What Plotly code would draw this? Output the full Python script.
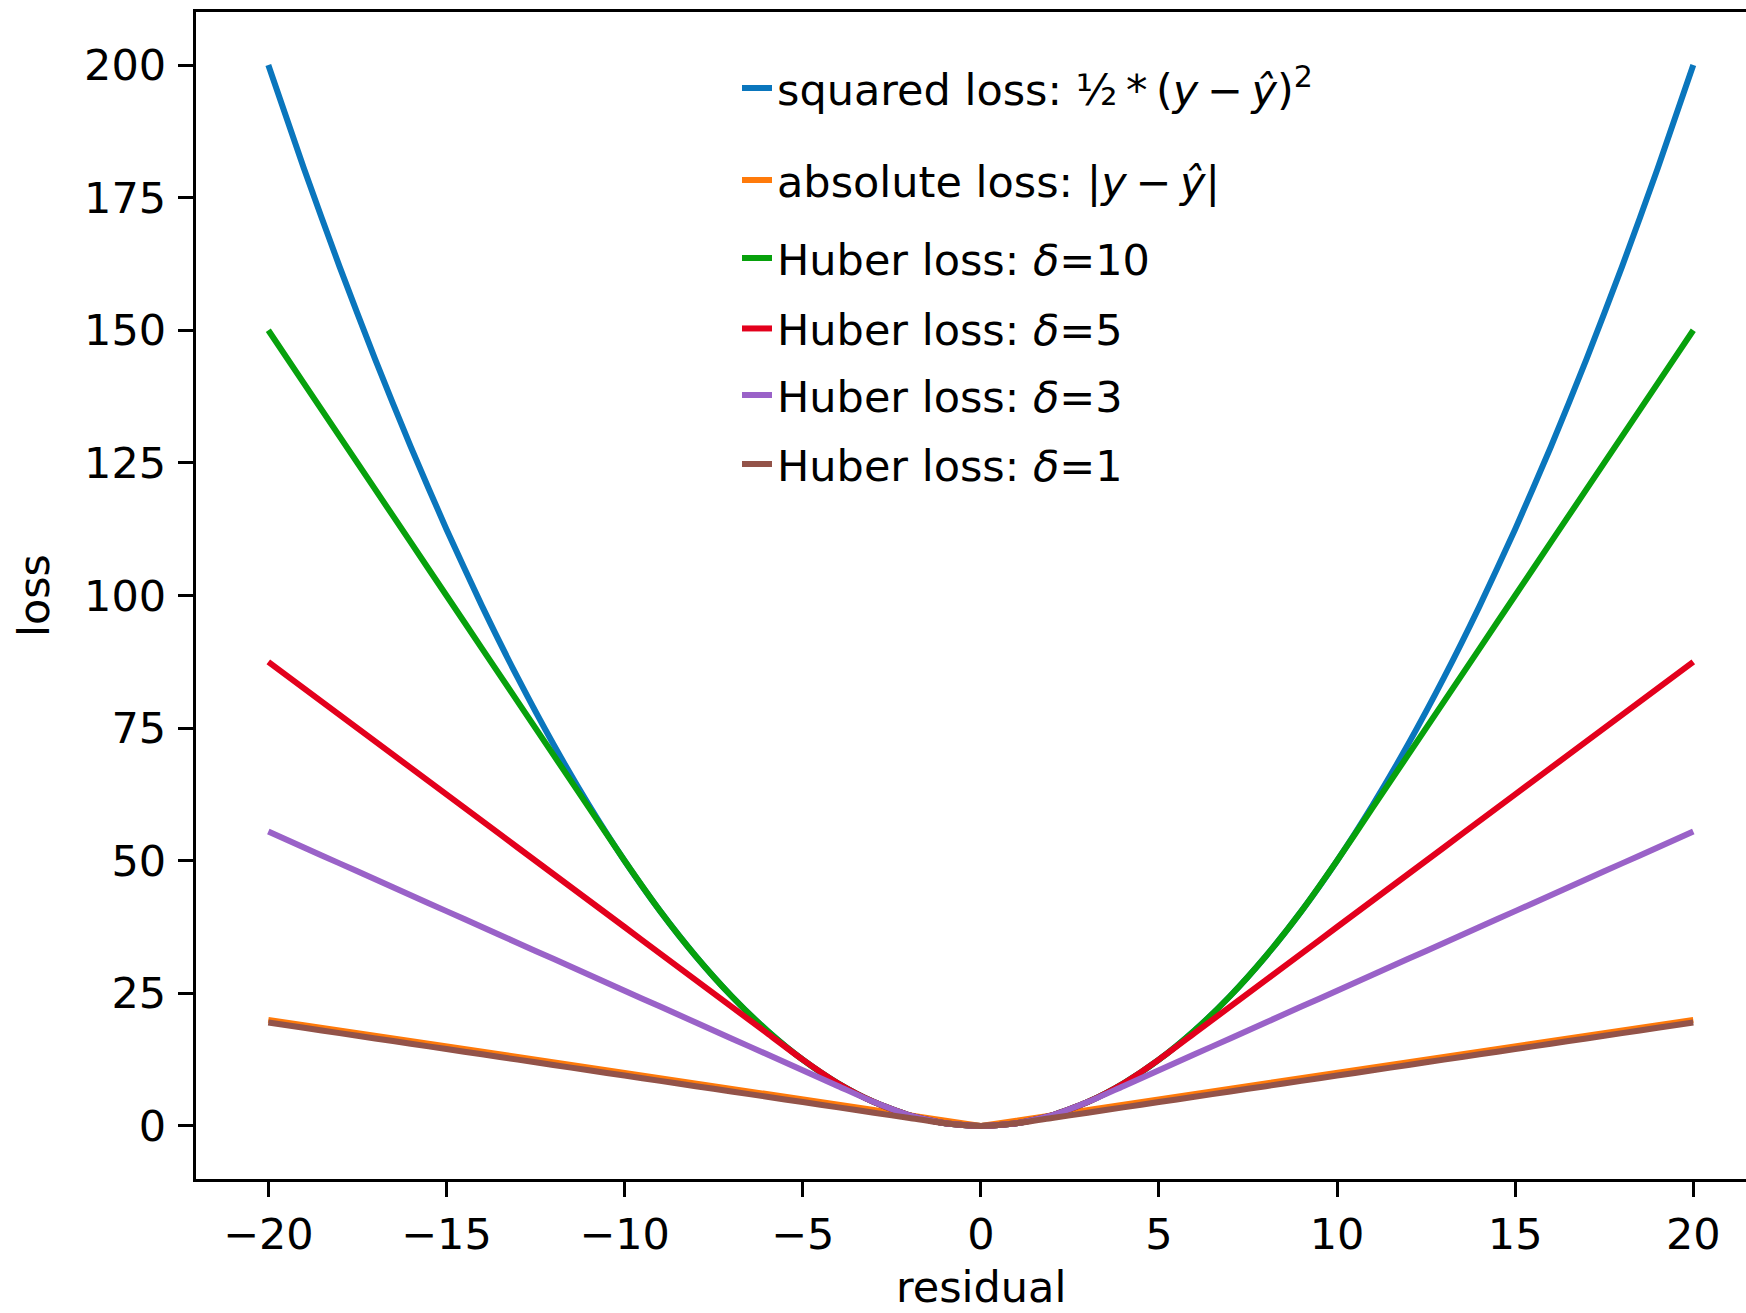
import plotly.graph_objects as go

# ---- data ----
residual = list(range(-20, 21))

squared_loss = [200, 180.5, 162, 144.5, 128, 112.5, 98, 84.5, 72, 60.5, 50, 40.5, 32, 24.5, 18, 12.5, 8, 4.5, 2, 0.5,
                0,
                0.5, 2, 4.5, 8, 12.5, 18, 24.5, 32, 40.5, 50, 60.5, 72, 84.5, 98, 112.5, 128, 144.5, 162, 180.5, 200]
absolute_loss = [20, 19, 18, 17, 16, 15, 14, 13, 12, 11, 10, 9, 8, 7, 6, 5, 4, 3, 2, 1,
                 0,
                 1, 2, 3, 4, 5, 6, 7, 8, 9, 10, 11, 12, 13, 14, 15, 16, 17, 18, 19, 20]
huber_10 = [150, 140, 130, 120, 110, 100, 90, 80, 70, 60, 50, 40.5, 32, 24.5, 18, 12.5, 8, 4.5, 2, 0.5,
            0,
            0.5, 2, 4.5, 8, 12.5, 18, 24.5, 32, 40.5, 50, 60, 70, 80, 90, 100, 110, 120, 130, 140, 150]
huber_5 = [87.5, 82.5, 77.5, 72.5, 67.5, 62.5, 57.5, 52.5, 47.5, 42.5, 37.5, 32.5, 27.5, 22.5, 17.5, 12.5, 8, 4.5, 2, 0.5,
           0,
           0.5, 2, 4.5, 8, 12.5, 17.5, 22.5, 27.5, 32.5, 37.5, 42.5, 47.5, 52.5, 57.5, 62.5, 67.5, 72.5, 77.5, 82.5, 87.5]
huber_3 = [55.5, 52.5, 49.5, 46.5, 43.5, 40.5, 37.5, 34.5, 31.5, 28.5, 25.5, 22.5, 19.5, 16.5, 13.5, 10.5, 7.5, 4.5, 2, 0.5,
           0,
           0.5, 2, 4.5, 7.5, 10.5, 13.5, 16.5, 19.5, 22.5, 25.5, 28.5, 31.5, 34.5, 37.5, 40.5, 43.5, 46.5, 49.5, 52.5, 55.5]
huber_1 = [19.5, 18.5, 17.5, 16.5, 15.5, 14.5, 13.5, 12.5, 11.5, 10.5, 9.5, 8.5, 7.5, 6.5, 5.5, 4.5, 3.5, 2.5, 1.5, 0.5,
           0,
           0.5, 1.5, 2.5, 3.5, 4.5, 5.5, 6.5, 7.5, 8.5, 9.5, 10.5, 11.5, 12.5, 13.5, 14.5, 15.5, 16.5, 17.5, 18.5, 19.5]

TS = "\u2009"  # thin space, like mathtext operator spacing
labels = [
    f"squared loss: ½{TS}*{TS}(<i>y</i>{TS}−{TS}<i>ŷ</i>)<sup>2</sup>",
    f"absolute loss: |<i>y</i>{TS}−{TS}<i>ŷ</i>|",
    "Huber loss: <i>δ</i>=10",
    "Huber loss: <i>δ</i>=5",
    "Huber loss: <i>δ</i>=3",
    "Huber loss: <i>δ</i>=1",
]
series = [squared_loss, absolute_loss, huber_10, huber_5, huber_3, huber_1]
colors = ["#0a76bd", "#ff7a0a", "#07a10c", "#e3001c", "#9a62c8", "#935349"]
shapes = ["spline", "linear", "spline", "spline", "spline", "spline"]

x_ticks = [-20, -15, -10, -5, 0, 5, 10, 15, 20]
y_ticks = [0, 25, 50, 75, 100, 125, 150, 175, 200]
x_title = "residual"
y_title = "loss"

# ---- layout geometry ----
W, H = 1746, 1313
L, T, B = 196, 12, 134
plot_h = H - T - B
legend_rows_px = [88, 180, 258, 328.5, 395, 464]
legend_keys = ["legend", "legend2", "legend3", "legend4", "legend5", "legend6"]
FONT = "DejaVu Sans"
FS = 43

fig = go.Figure()
for name, ys, c, shp, lk in zip(labels, series, colors, shapes, legend_keys):
    fig.add_trace(go.Scatter(
        x=residual, y=ys, mode="lines", name=name,
        line=dict(color=c, width=6, shape=shp, smoothing=0.6 if shp == "spline" else None),
        legend=lk,
    ))

axis_common = dict(
    showgrid=False, zeroline=False, showline=True, linecolor="black", linewidth=3.4,
    ticks="outside", ticklen=15, tickwidth=3.4, tickcolor="black",
    tickfont=dict(family=FONT, size=FS, color="black"),
)

layout_legends = {}
for lk, ypx in zip(legend_keys, legend_rows_px):
    layout_legends[lk] = dict(
        x=(737 - L) / (W - L), xanchor="left",
        y=(H - B - ypx) / plot_h, yanchor="middle",
        bgcolor="rgba(0,0,0,0)", borderwidth=0,
        font=dict(family=FONT, size=FS, color="black"),
    )

fig.update_layout(
    width=W, height=H,
    margin=dict(l=L, r=0, t=T, b=B, pad=0),
    paper_bgcolor="white", plot_bgcolor="white",
    font=dict(family=FONT, size=FS, color="black"),
    showlegend=True,
    xaxis=dict(range=[-22.03, 21.48], tickvals=x_ticks, mirror=True, **axis_common),
    yaxis=dict(range=[-10, 210], tickvals=y_ticks, mirror=False, ticklabelstandoff=3,
               title=dict(text=y_title, font=dict(family=FONT, size=FS, color="black"), standoff=22),
               **axis_common),
    annotations=[dict(
        text=x_title, xref="x", x=0, xanchor="center",
        yref="paper", y=(H - B - 1287) / plot_h, yanchor="middle",
        showarrow=False, borderpad=0, font=dict(family=FONT, size=FS, color="black"),
    )],
    **layout_legends,
)

fig.write_html("out.html", config={"displayModeBar": False},
               post_script="document.body.style.margin='0';document.body.style.overflow='hidden';")
